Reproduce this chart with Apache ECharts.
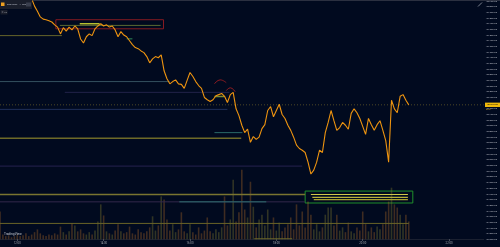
<!DOCTYPE html>
<html><head><meta charset="utf-8">
<script src="https://cdn.jsdelivr.net/npm/echarts@6/dist/echarts.min.js"></script>
<style>html,body{margin:0;padding:0;background:#010a1f;}#c{width:500px;height:247px;}</style>
</head><body><div id="c"></div>
<script>
// ---- data ----
const startMinutes = 11 * 60 + 36;   // time of bar 0
const minutesPerBar = 4;
const barCount = 168;
const timeTicks = [6, 36, 66, 96, 126, 156];
const priceMin = 103900, priceMax = 108100, priceStep = 100;

const prices = [
108900,108820,108760,108700,108640,108600,108520,108450,108380,108300,
108240,108140,108010,107920,107820,107780,107770,107750,107730,107680,
107640,107520,107630,107570,107640,107590,107660,107610,107430,107360,
107470,107520,107490,107610,107660,107700,107660,107680,107640,107660,
107590,107470,107560,107500,107470,107400,107330,107280,107260,107220,
107190,107120,107010,107080,107120,107100,107150,106870,106730,106640,
106680,106710,106640,106630,106560,106700,106840,106770,106680,106610,
106560,106400,106360,106330,106360,106430,106450,106470,106420,106310,
106450,106490,106200,106080,105910,105780,105840,105610,105710,105660,
105700,105850,105920,106170,106240,106060,106170,106280,106100,106030,
105910,105820,105700,105560,105500,105470,105430,105260,105050,105120,
105260,105470,105430,105780,105960,106170,105990,105820,105870,105960,
105910,105840,106120,106200,106130,106030,105890,105750,106030,105920,
105820,105920,105990,105820,105640,105260,106350,106200,106130,106420,
106450,106350,106270];

const volumes = [
70,12,8,10,5,8,12,8,10,15,
8,12,18,25,15,10,8,12,10,15,
12,32,18,12,20,40,35,20,25,15,
12,18,12,22,45,88,60,20,15,12,
22,38,20,15,18,32,15,12,25,18,
15,20,30,58,22,35,108,100,50,22,
38,18,25,68,20,15,38,18,12,30,
15,22,55,20,15,25,18,30,108,35,
50,150,45,68,175,75,55,145,82,30,
50,62,35,75,25,55,22,42,20,30,
38,55,25,88,35,70,30,95,62,25,
38,20,30,62,80,80,35,62,22,30,
18,42,20,15,30,22,70,38,20,30,
18,32,25,38,70,95,130,88,80,62,
38,62,45];

const lastPrice = 106270;

// horizontal levels: price, start bar, end bar
const levelPrice = [107490,107700,107670,107433,106680,106490,106190,105780,105680,105190,104690,104560,104560,104180,104690,104640,104600,106415,103910];
const levelFrom  = [0,27.7,20.8,44,0,22.5,0,74.5,0,0,0,0,62.3,0,108,108.5,109,74.5,88.3];
const levelTo    = [21.5,34.6,55.8,46,58.9,79.7,79,84.2,83.8,105,106,106,92.5,142,141.7,141.7,141.7,78,101.5];
const levelStyle = [
 {c:'#66652a',w:1},{c:'#b8c030',w:1.6},{c:'#5b6a32',w:1},{c:'#2e8b57',w:1},
 {c:'#34505e',w:1},{c:'#22234a',w:1},{c:'#20305a',w:1},{c:'#2a6a6a',w:1},
 {c:'#6e6a28',w:1.5},{c:'#262250',w:1},{c:'#7a7530',w:1.5},{c:'#33284c',w:1},
 {c:'#2d7070',w:1},{c:'#6a6428',w:1},{c:'#d0c848',w:1.2},{c:'#b8b03a',w:1.2},
 {c:'#a8a030',w:1.2},{c:'#7a8a30',w:1.5},{c:'#6a6428',w:1.2}];

const redZone = [19.4, 56.8, 107610, 107770];
const greenZone = [106, 143.4, 104540, 104750];
const arc1Bars = [74.5, 76.5, 78.6], arc1Prices = [106640, 106710, 106660];
const arc2Bars = [78.6, 80, 81.7], arc2Prices = [106520, 106570, 106500];

// ---- chart ----
const chart = echarts.init(document.getElementById('c'), null, {renderer:'canvas'});
const fmtTime = t => {
  const m = startMinutes + t * minutesPerBar;
  const h = Math.floor(m / 60) % 24, mm = m % 60;
  return String(h).padStart(2,'0') + ':' + String(mm).padStart(2,'0');
};
const FONT = 'Roboto, "DejaVu Sans", sans-serif';

const series = [];
series.push({
  type:'bar', xAxisIndex:0, yAxisIndex:1, barWidth:1.6, silent:true, z:1,
  data: volumes.map((v,i)=>({value:[i,v], itemStyle:{color: (i>0 && prices[i]>=prices[i-1]) ? 'rgba(150,140,50,0.33)' : 'rgba(175,105,40,0.36)'}}))
});
levelPrice.forEach((p,k)=>{
  series.push({type:'line', silent:true, symbol:'none', z:2, animation:false,
    data:[[levelFrom[k],p],[levelTo[k],p]],
    lineStyle:{color:levelStyle[k].c, width:levelStyle[k].w}});
});
// current price dotted level across the whole width
series.push({type:'line', silent:true, symbol:'none', z:2,
  data:[[0,lastPrice],[barCount,lastPrice]],
  lineStyle:{color:'#4e4826', width:1, type:[1,2]}});
series.push({type:'line', silent:true, symbol:'none', data:[], z:3,
  markArea:{silent:true, data:[
    [{coord:[redZone[0],redZone[3]], itemStyle:{color:'rgba(0,0,0,0)', borderColor:'#861a22', borderWidth:1}}, {coord:[redZone[1],redZone[2]]}],
    [{coord:[greenZone[0],greenZone[3]], itemStyle:{color:'rgba(0,0,0,0)', borderColor:'#1f8f2c', borderWidth:1}}, {coord:[greenZone[1],greenZone[2]]}]
  ]}});
[[arc1Bars,arc1Prices],[arc2Bars,arc2Prices]].forEach(a=>{
  series.push({type:'line', silent:true, symbol:'none', smooth:true, z:4,
    data:a[0].map((t,i)=>[t,a[1][i]]), lineStyle:{color:'#8e1c22', width:1}});
});
series.push({
  type:'line', symbol:'none', z:5, animation:false,
  data: prices.map((p,i)=>[i,p]),
  lineStyle:{color:'#ee9410', width:1.1}
});

chart.setOption({
  backgroundColor:'#010a1f',
  animation:false,
  textStyle:{fontFamily:FONT},
  grid:{left:0, right:15, top:0, bottom:7.7, containLabel:false},
  xAxis:{type:'value', min:0, max:barCount,
    axisLine:{show:true, lineStyle:{color:'#1a2030'}},
    axisTick:{show:true, length:1.5, customValues:timeTicks, lineStyle:{color:'#5a5f6b'}},
    splitLine:{show:false},
    axisLabel:{customValues:timeTicks, formatter:v=>fmtTime(v), fontSize:2.8, color:'#a0a4ad', margin:2.5, fontFamily:FONT}},
  yAxis:[
    {type:'value', position:'right', min:priceMin, max:priceMax, interval:priceStep,
     axisLine:{show:false}, axisTick:{show:false}, splitLine:{show:false},
     axisLabel:{fontSize:2.4, color:'#aeb1ba', margin:2, showMinLabel:true, showMaxLabel:true,
       formatter:v=>v.toFixed(2), fontFamily:FONT}},
    {type:'value', min:0, max:600, show:false}
  ],
  series
});

const py = chart.convertToPixel({gridIndex:0}, [0, lastPrice])[1];
chart.setOption({graphic:[
  {type:'rect', shape:{x:0,y:0,width:500,height:1}, style:{fill:'#2b3040'}, silent:true},
  {type:'rect', shape:{x:0,y:0,width:32,height:9}, style:{fill:'#1a1e2b'}, silent:true, z:10},
  {type:'rect', shape:{x:1,y:2.5,width:3.5,height:3.5}, style:{fill:'#f0a020'}, z:11},
  {type:'text', x:7, y:4.5, style:{text:'BTCUSDT · 4 · Bybit', fontSize:2.4, fill:'#b8bcc6', verticalAlign:'middle', fontFamily:FONT}, z:11},
  {type:'rect', shape:{x:26,y:2.5,width:5,height:4}, style:{fill:'#3a3f4e'}, z:11},
  {type:'rect', shape:{x:0.5,y:10,width:7,height:4.5}, style:{fill:'#1a1e2b'}, z:10},
  {type:'text', x:1.5, y:12.3, style:{text:'≡ 10', fontSize:2.4, fill:'#b8bcc6', verticalAlign:'middle', fontFamily:FONT}, z:11},
  {type:'text', x:4, y:234.5, style:{text:'TradingView', fontSize:3.2, fill:'#c8ccd4', verticalAlign:'middle', fontFamily:FONT}, z:11},
  {type:'polyline', shape:{points:[[478,6.5],[482,2.5]]}, style:{stroke:'#9aa0ab', lineWidth:0.8}, z:11},
  {type:'rect', shape:{x:485,y:py-2.2,width:15,height:4.4}, style:{fill:'#f0b90b'}, z:12},
  {type:'text', x:486.5, y:py, style:{text:lastPrice.toFixed(2), fontSize:2.4, fill:'#111', verticalAlign:'middle', fontFamily:FONT}, z:13},
  {type:'text', x:486, y:py+4.3, style:{text:'00:21', fontSize:2.2, fill:'#c9980c', verticalAlign:'middle', fontFamily:FONT}, z:13}
]});
</script></body></html>
